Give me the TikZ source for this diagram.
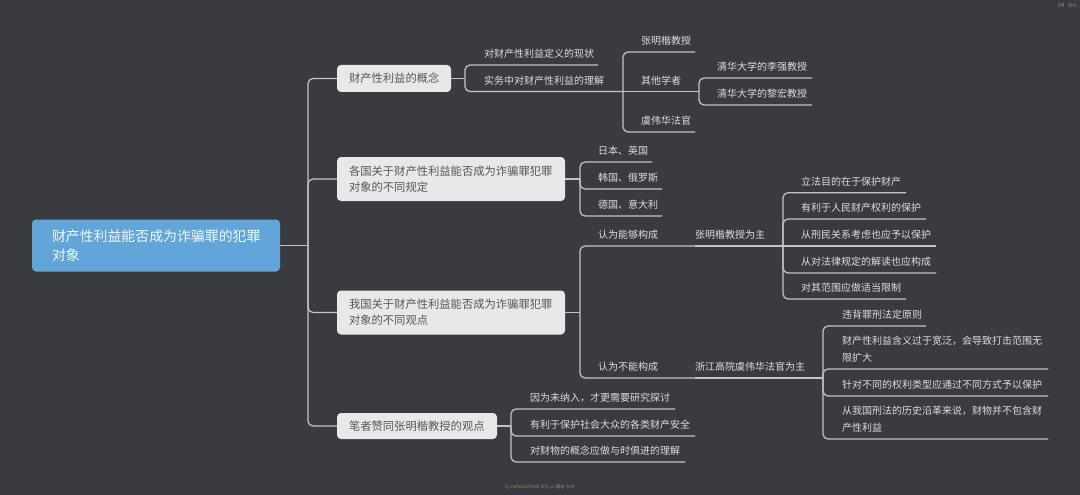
\documentclass[tikz,border=0pt]{standalone}
\usepackage{fontspec}
\setmainfont{Noto Sans CJK SC}
\newfontfamily\symfont{DejaVu Sans}
\definecolor{bgc}{HTML}{3A3B40}
\definecolor{linec}{HTML}{C4C4C6}
\definecolor{leafc}{HTML}{DEDEDE}
\definecolor{mainc}{HTML}{E8E8EA}
\definecolor{maint}{HTML}{55565A}
\definecolor{rootc}{HTML}{62A6D9}
\definecolor{markc}{HTML}{77787C}
\definecolor{goldc}{HTML}{A08A3C}
\tikzset{
  leaf/.style={anchor=south west,inner xsep=0pt,inner ysep=2.2pt,outer sep=0pt,text width=#1,align=left,text=leafc,
    font=\fontsize{10}{17}\selectfont,execute at begin node=\strut,execute at end node=\strut},
  mainbox/.style={fill=mainc,rounded corners=4,inner xsep=12pt,inner ysep=0pt,outer sep=0pt,text=maint,align=left,
    font=\fontsize{11.3}{16}\selectfont,text width=#1},
  rootbox/.style={fill=rootc,rounded corners=4,inner xsep=20pt,inner ysep=0pt,outer sep=0pt,text=white!92!rootc,align=left,
    font=\fontsize{13.9}{19.3}\selectfont,text width=208pt,minimum height=52pt},
  conn/.style={draw=linec,line width=1.25pt,rounded corners=5pt},
  wmark/.style={text=markc,inner sep=0pt,font=\fontsize{4.5}{5}\selectfont}
}
\begin{document}
\begin{tikzpicture}[x=1pt,y=-1pt]
\useasboundingbox (0,0) rectangle (1080,495);
\fill[bgc] (0,0) rectangle (1080,495);
% root and main topics
\node[rootbox] (root) at (156,245.5) {财产性利益能否成为诈骗罪的犯罪\\对象};
\node[mainbox=90pt,minimum height=27pt] (m1) at (394,78.5) {财产性利益的概念};
\node[mainbox=204pt,minimum height=44pt] (m2) at (451,179) {各国关于财产性利益能否成为诈骗罪犯罪\\对象的不同规定};
\node[mainbox=204pt,minimum height=44pt] (m3) at (451,312.5) {我国关于财产性利益能否成为诈骗罪犯罪\\对象的不同观点};
\node[mainbox=136pt,minimum height=26pt] (m4) at (417,426) {笔者赞同张明楷教授的观点};
% junctions
\coordinate (t) at (308,245.5);
\coordinate (j1) at (465,78.5);
\coordinate (j2) at (580,179);
\coordinate (j3) at (580,312.5);
\coordinate (j4) at (511,426);
% branch 1
\node[leaf=114pt] (a1) at (484,65) {对财产性利益定义的现状};
\node[leaf=139pt] (a2) at (484,91.5) {实务中对财产性利益的理解};
\node[leaf=54pt] (b1) at (641,52) {张明楷教授};
\node[leaf=58pt] (b2) at (641,91.5) {其他学者};
\node[leaf=54pt] (b3) at (641,132) {虞伟华法官};
\node[leaf=95pt] (c1) at (717,78) {清华大学的李强教授};
\node[leaf=95pt] (c2) at (717,105) {清华大学的黎宏教授};
% branch 2
\node[leaf=54pt] (d1) at (598,162) {日本、英国};
\node[leaf=64pt] (d2) at (598,189) {韩国、俄罗斯};
\node[leaf=64pt] (d3) at (598,216) {德国、意大利};
% branch 3
\node[leaf=97pt] (e1) at (598,246) {认为能够构成};
\node[leaf=88pt] (e2) at (695,246) {张明楷教授为主};
\node[leaf=105pt] (f1) at (801,192.7) {立法目的在于保护财产};
\node[leaf=125pt] (f2) at (801,219) {有利于人民财产权利的保护};
\node[leaf=135pt] (f3) at (801,246) {从刑民关系考虑也应予以保护};
\node[leaf=135pt] (f4) at (801,273) {从对法律规定的解读也应构成};
\node[leaf=105pt] (f5) at (801,299) {对其范围应做适当限制};
\node[leaf=97pt] (g1) at (598,378) {认为不能构成};
\node[leaf=128pt] (g2) at (695,378) {浙江高院虞伟华法官为主};
\node[leaf=84pt] (h1) at (842,326) {违背罪刑法定原则};
\node[leaf=206pt] (h2) at (842,369) {财产性利益含义过于宽泛，会导致打击范围无\\限扩大};
\node[leaf=206pt] (h3) at (842,396) {针对不同的权利类型应通过不同方式予以保护};
\node[leaf=206pt] (h4) at (842,439) {从我国刑法的历史沿革来说，财物并不包含财\\产性利益};
% branch 4
\node[leaf=145pt] (i1) at (530,409) {因为未纳入，才更需要研究探讨};
\node[leaf=165pt] (i2) at (530,436) {有利于保护社会大众的各类财产安全};
\node[leaf=155pt] (i3) at (530,462) {对财物的概念应做与时俱进的理解};
% connectors
\draw[conn] (root.east) -- (t);
\draw[conn] (t) |- (m1.west);
\draw[conn] (t) |- (m2.west);
\draw[conn] (t) |- (m3.west);
\draw[conn] (t) |- (m4.west);
\draw[conn] (m1.east) -- (j1);
\draw[conn] (j1) |- (a1.south east);
\draw[conn] (j1) |- (a2.south east);
\draw[conn] (a2.south east) |- (b1.south east);
\draw[conn] (a2.south east) -- (b2.south east);
\draw[conn] (a2.south east) |- (b3.south east);
\draw[conn] (b2.south east) |- (c1.south east);
\draw[conn] (b2.south east) |- (c2.south east);
\draw[conn] (m2.east) -- (j2);
\draw[conn] (j2) |- (d1.south east);
\draw[conn] (j2) |- (d2.south east);
\draw[conn] (j2) |- (d3.south east);
\draw[conn] (m3.east) -- (j3);
\draw[conn] (j3) |- (e1.south east);
\draw[conn] (e1.south east) -- (e2.south east);
\draw[conn] (e2.south east) |- (f1.south east);
\draw[conn] (e2.south east) |- (f2.south east);
\draw[conn] (e2.south east) -- (f3.south east);
\draw[conn] (e2.south east) |- (f4.south east);
\draw[conn] (e2.south east) |- (f5.south east);
\draw[conn] (j3) |- (g1.south east);
\draw[conn] (g1.south east) -- (g2.south east);
\draw[conn] (g2.south east) |- (h1.south east);
\draw[conn] (g2.south east) |- (h2.south east);
\draw[conn] (g2.south east) |- (h3.south east);
\draw[conn] (g2.south east) |- (h4.south east);
\draw[conn] (m4.east) -- (j4);
\draw[conn] (j4) |- (i1.south east);
\draw[conn] (j4) |- (i2.south east);
\draw[conn] (j4) |- (i3.south east);
% watermarks
\node[wmark] (wm) at (540,487.5) {by {\color{goldc}hefeimichelle} 来自 {\symfont ⋈} {\color{goldc}幕布} 发布};
\node[wmark,anchor=east] (tr) at (1077,5) {{\symfont\fontsize{7}{7}\selectfont ⋈}\hspace{3pt}幕布};
\end{tikzpicture}
\end{document}
